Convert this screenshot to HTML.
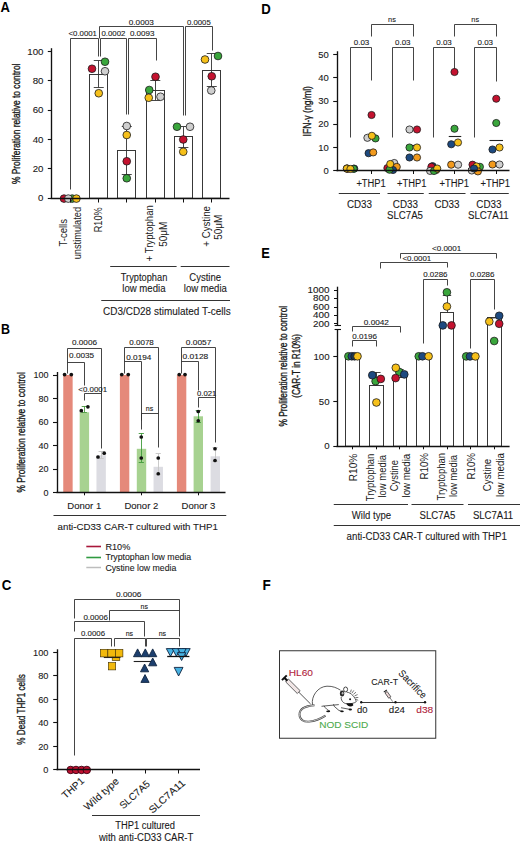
<!DOCTYPE html>
<html><head><meta charset="utf-8"><title>Figure</title>
<style>
html,body{margin:0;padding:0;background:#fff;}
body{width:520px;height:844px;overflow:hidden;}
svg{display:block;font-family:"Liberation Sans", sans-serif;}
text{stroke-width:0.1px;}
.lab{stroke-width:0;}
</style></head>
<body>
<svg width="520" height="844" viewBox="0 0 520 844">
<rect width="520" height="844" fill="#fff"/>
<text x="0.4" y="11.7" font-size="14.3" font-weight="bold" fill="#000" textLength="9.4" lengthAdjust="spacingAndGlyphs">A</text>
<polyline points="70.5,189.5 70.5,38.5 98.5,38.5 98.5,56.5" fill="none" stroke="#303030" stroke-width="0.9"/>
<polyline points="100.5,56.5 100.5,38.5 126.5,38.5 126.5,114.5" fill="none" stroke="#303030" stroke-width="0.9"/>
<polyline points="128.5,114.5 128.5,38.5 156.5,38.5 156.5,60.5" fill="none" stroke="#303030" stroke-width="0.9"/>
<polyline points="99.5,38.5 99.5,26.5 183.5,26.5 183.5,115.5" fill="none" stroke="#303030" stroke-width="0.9"/>
<polyline points="185.5,115.5 185.5,26.5 212.5,26.5 212.5,50.5" fill="none" stroke="#303030" stroke-width="0.9"/>
<text x="68.5" y="36.2" font-size="7" fill="#1a1a1a" stroke="#1a1a1a" textLength="28.4" lengthAdjust="spacingAndGlyphs">&lt;0.0001</text>
<text x="101.5" y="36.2" font-size="7" fill="#1a1a1a" stroke="#1a1a1a" textLength="23.9" lengthAdjust="spacingAndGlyphs">0.0002</text>
<text x="129.9" y="36.2" font-size="7" fill="#1a1a1a" stroke="#1a1a1a" textLength="24.6" lengthAdjust="spacingAndGlyphs">0.0093</text>
<text x="128.8" y="24.5" font-size="7" fill="#1a1a1a" stroke="#1a1a1a" textLength="25" lengthAdjust="spacingAndGlyphs">0.0003</text>
<text x="187" y="24.5" font-size="7" fill="#1a1a1a" stroke="#1a1a1a" textLength="23.7" lengthAdjust="spacingAndGlyphs">0.0005</text>
<rect x="89.5" y="74.5" width="18" height="123.75" fill="#fff" stroke="#383838" stroke-width="1.0"/>
<rect x="117.5" y="150.5" width="18" height="47.75" fill="#fff" stroke="#383838" stroke-width="1.0"/>
<rect x="146.5" y="90.5" width="18" height="107.75" fill="#fff" stroke="#383838" stroke-width="1.0"/>
<rect x="174.5" y="136.5" width="18" height="61.75" fill="#fff" stroke="#383838" stroke-width="1.0"/>
<rect x="202.5" y="70.5" width="18" height="127.75" fill="#fff" stroke="#383838" stroke-width="1.0"/>
<line x1="98.5" y1="60.5" x2="98.5" y2="87.5" stroke="#333" stroke-width="0.9"/>
<line x1="93.75" y1="60.5" x2="103.75" y2="60.5" stroke="#333" stroke-width="0.9"/>
<line x1="93.75" y1="87.5" x2="103.75" y2="87.5" stroke="#333" stroke-width="0.9"/>
<line x1="126.5" y1="126" x2="126.5" y2="174.5" stroke="#333" stroke-width="0.9"/>
<line x1="121.75" y1="126.5" x2="131.75" y2="126.5" stroke="#333" stroke-width="0.9"/>
<line x1="121.75" y1="174.5" x2="131.75" y2="174.5" stroke="#333" stroke-width="0.9"/>
<line x1="155.5" y1="80.9" x2="155.5" y2="100.3" stroke="#333" stroke-width="0.9"/>
<line x1="150.3" y1="80.5" x2="160.3" y2="80.5" stroke="#333" stroke-width="0.9"/>
<line x1="150.3" y1="100.5" x2="160.3" y2="100.5" stroke="#333" stroke-width="0.9"/>
<line x1="183.5" y1="126.75" x2="183.5" y2="147.5" stroke="#333" stroke-width="0.9"/>
<line x1="178.4" y1="126.5" x2="188.4" y2="126.5" stroke="#333" stroke-width="0.9"/>
<line x1="178.4" y1="147.5" x2="188.4" y2="147.5" stroke="#333" stroke-width="0.9"/>
<line x1="211.5" y1="53.75" x2="211.5" y2="86.5" stroke="#333" stroke-width="0.9"/>
<line x1="206.75" y1="53.5" x2="216.75" y2="53.5" stroke="#333" stroke-width="0.9"/>
<line x1="206.75" y1="86.5" x2="216.75" y2="86.5" stroke="#333" stroke-width="0.9"/>
<circle cx="64" cy="198.6" r="3.85" fill="#c4122f" stroke="#1a1a1a" stroke-width="0.8"/>
<circle cx="72.2" cy="198.6" r="3.85" fill="#3aa63c" stroke="#1a1a1a" stroke-width="0.8"/>
<circle cx="68.3" cy="198.6" r="3.85" fill="#cfcfcf" stroke="#1a1a1a" stroke-width="0.8"/>
<circle cx="76.4" cy="198.6" r="3.85" fill="#f6c01a" stroke="#1a1a1a" stroke-width="0.8"/>
<circle cx="92" cy="68.75" r="3.85" fill="#c4122f" stroke="#1a1a1a" stroke-width="0.8"/>
<circle cx="105" cy="61.75" r="3.85" fill="#3aa63c" stroke="#1a1a1a" stroke-width="0.8"/>
<circle cx="105" cy="71.25" r="3.85" fill="#cfcfcf" stroke="#1a1a1a" stroke-width="0.8"/>
<circle cx="98.75" cy="93.25" r="3.85" fill="#f6c01a" stroke="#1a1a1a" stroke-width="0.8"/>
<circle cx="126.75" cy="126" r="3.85" fill="#cfcfcf" stroke="#1a1a1a" stroke-width="0.8"/>
<circle cx="126.75" cy="135" r="3.85" fill="#f6c01a" stroke="#1a1a1a" stroke-width="0.8"/>
<circle cx="126.75" cy="161.25" r="3.85" fill="#c4122f" stroke="#1a1a1a" stroke-width="0.8"/>
<circle cx="126.75" cy="178.25" r="3.85" fill="#3aa63c" stroke="#1a1a1a" stroke-width="0.8"/>
<circle cx="155.5" cy="76.75" r="3.85" fill="#c4122f" stroke="#1a1a1a" stroke-width="0.8"/>
<circle cx="160.5" cy="96.75" r="3.85" fill="#cfcfcf" stroke="#1a1a1a" stroke-width="0.8"/>
<circle cx="149.25" cy="90" r="3.85" fill="#3aa63c" stroke="#1a1a1a" stroke-width="0.8"/>
<circle cx="148.75" cy="97.75" r="3.85" fill="#f6c01a" stroke="#1a1a1a" stroke-width="0.8"/>
<circle cx="177" cy="126.75" r="3.85" fill="#3aa63c" stroke="#1a1a1a" stroke-width="0.8"/>
<circle cx="190" cy="126.75" r="3.85" fill="#cfcfcf" stroke="#1a1a1a" stroke-width="0.8"/>
<circle cx="183.25" cy="139.5" r="3.85" fill="#c4122f" stroke="#1a1a1a" stroke-width="0.8"/>
<circle cx="183.25" cy="151.75" r="3.85" fill="#f6c01a" stroke="#1a1a1a" stroke-width="0.8"/>
<circle cx="205" cy="59.5" r="3.85" fill="#f6c01a" stroke="#1a1a1a" stroke-width="0.8"/>
<circle cx="218" cy="56" r="3.85" fill="#3aa63c" stroke="#1a1a1a" stroke-width="0.8"/>
<circle cx="211.75" cy="76.25" r="3.85" fill="#c4122f" stroke="#1a1a1a" stroke-width="0.8"/>
<circle cx="211.25" cy="90.5" r="3.85" fill="#cfcfcf" stroke="#1a1a1a" stroke-width="0.8"/>
<line x1="51.5" y1="48.2" x2="51.5" y2="198.7" stroke="#111111" stroke-width="1.35"/>
<line x1="50.6" y1="198.5" x2="229.5" y2="198.5" stroke="#111111" stroke-width="1.35"/>
<line x1="47.8" y1="198.5" x2="51.2" y2="198.5" stroke="#111111" stroke-width="1.1"/>
<text x="38.1" y="201.4" font-size="8.8" fill="#1a1a1a" stroke="#1a1a1a" textLength="5.4" lengthAdjust="spacingAndGlyphs">0</text>
<line x1="47.8" y1="168.5" x2="51.2" y2="168.5" stroke="#111111" stroke-width="1.1"/>
<text x="32.7" y="172.05" font-size="8.8" fill="#1a1a1a" stroke="#1a1a1a" textLength="10.8" lengthAdjust="spacingAndGlyphs">20</text>
<line x1="47.8" y1="139.5" x2="51.2" y2="139.5" stroke="#111111" stroke-width="1.1"/>
<text x="32.7" y="142.7" font-size="8.8" fill="#1a1a1a" stroke="#1a1a1a" textLength="10.8" lengthAdjust="spacingAndGlyphs">40</text>
<line x1="47.8" y1="110.5" x2="51.2" y2="110.5" stroke="#111111" stroke-width="1.1"/>
<text x="32.7" y="113.35" font-size="8.8" fill="#1a1a1a" stroke="#1a1a1a" textLength="10.8" lengthAdjust="spacingAndGlyphs">60</text>
<line x1="47.8" y1="80.5" x2="51.2" y2="80.5" stroke="#111111" stroke-width="1.1"/>
<text x="32.7" y="84" font-size="8.8" fill="#1a1a1a" stroke="#1a1a1a" textLength="10.8" lengthAdjust="spacingAndGlyphs">80</text>
<line x1="47.8" y1="51.5" x2="51.2" y2="51.5" stroke="#111111" stroke-width="1.1"/>
<text x="27.3" y="54.65" font-size="8.8" fill="#1a1a1a" stroke="#1a1a1a" textLength="16.2" lengthAdjust="spacingAndGlyphs">100</text>
<line x1="70.5" y1="198.25" x2="70.5" y2="202.5" stroke="#111111" stroke-width="1.0"/>
<line x1="98.5" y1="198.25" x2="98.5" y2="202.5" stroke="#111111" stroke-width="1.0"/>
<line x1="126.5" y1="198.25" x2="126.5" y2="202.5" stroke="#111111" stroke-width="1.0"/>
<line x1="155.5" y1="198.25" x2="155.5" y2="202.5" stroke="#111111" stroke-width="1.0"/>
<line x1="183.5" y1="198.25" x2="183.5" y2="202.5" stroke="#111111" stroke-width="1.0"/>
<line x1="211.5" y1="198.25" x2="211.5" y2="202.5" stroke="#111111" stroke-width="1.0"/>
<text transform="translate(19.8,184.1) rotate(-90)" x="0" y="0" font-size="11.8" fill="#1a1a1a" stroke="#1a1a1a" style="stroke-width:0.35px" textLength="120.5" lengthAdjust="spacingAndGlyphs">% Proliferation relative to control</text>
<text transform="translate(67.4,246.6) rotate(-90)" x="0" y="0" font-size="10.4" fill="#1a1a1a" textLength="27.6" lengthAdjust="spacingAndGlyphs">T-cells</text>
<text transform="translate(80.6,259.3) rotate(-90)" x="0" y="0" font-size="10.4" fill="#1a1a1a" textLength="52.4" lengthAdjust="spacingAndGlyphs">unstimulated</text>
<text transform="translate(101.8,232.3) rotate(-90)" x="0" y="0" font-size="10.4" fill="#1a1a1a" textLength="24.9" lengthAdjust="spacingAndGlyphs">R10%</text>
<text transform="translate(152.6,261.4) rotate(-90)" x="0" y="0" font-size="10.4" fill="#1a1a1a" textLength="56.2" lengthAdjust="spacingAndGlyphs">+ Tryptophan</text>
<text transform="translate(166.6,246.7) rotate(-90)" x="0" y="0" font-size="10.4" fill="#1a1a1a" textLength="25.1" lengthAdjust="spacingAndGlyphs">50μM</text>
<text transform="translate(209.8,246.7) rotate(-90)" x="0" y="0" font-size="10.4" fill="#1a1a1a" textLength="40.7" lengthAdjust="spacingAndGlyphs">+ Cystine</text>
<text transform="translate(222,239.8) rotate(-90)" x="0" y="0" font-size="10.4" fill="#1a1a1a" textLength="25.1" lengthAdjust="spacingAndGlyphs">50μM</text>
<line x1="110.2" y1="266.5" x2="176.6" y2="266.5" stroke="#333" stroke-width="1.0"/>
<line x1="180.7" y1="266.5" x2="229.5" y2="266.5" stroke="#333" stroke-width="1.0"/>
<text x="120.8" y="281" font-size="10" fill="#1a1a1a" stroke="#1a1a1a" textLength="46.5" lengthAdjust="spacingAndGlyphs">Tryptophan</text>
<text x="122.3" y="292" font-size="10" fill="#1a1a1a" stroke="#1a1a1a" textLength="43.2" lengthAdjust="spacingAndGlyphs">low media</text>
<text x="189.3" y="281" font-size="10" fill="#1a1a1a" stroke="#1a1a1a" textLength="31.7" lengthAdjust="spacingAndGlyphs">Cystine</text>
<text x="183.8" y="292" font-size="10" fill="#1a1a1a" stroke="#1a1a1a" textLength="43.1" lengthAdjust="spacingAndGlyphs">low media</text>
<line x1="101.25" y1="300.5" x2="230" y2="300.5" stroke="#333" stroke-width="1.0"/>
<text x="103" y="314.8" font-size="10" fill="#1a1a1a" stroke="#1a1a1a" textLength="127.7" lengthAdjust="spacingAndGlyphs">CD3/CD28 stimulated T-cells</text>
<text x="1" y="333.6" font-size="14.3" font-weight="bold" fill="#000" textLength="9" lengthAdjust="spacingAndGlyphs">B</text>
<polyline points="67.5,373.5 67.5,348.5 101.5,348.5 101.5,448.5" fill="none" stroke="#303030" stroke-width="0.9"/>
<polyline points="67.5,362.5 84.5,362.5 84.5,385.5" fill="none" stroke="#303030" stroke-width="0.9"/>
<polyline points="84.5,400.5 84.5,393.5 101.5,393.5" fill="none" stroke="#303030" stroke-width="0.9"/>
<text x="72" y="345.1" font-size="6.8" fill="#1a1a1a" stroke="#1a1a1a" textLength="25" lengthAdjust="spacingAndGlyphs">0.0006</text>
<text x="69.1" y="358.1" font-size="6.8" fill="#1a1a1a" stroke="#1a1a1a" textLength="25" lengthAdjust="spacingAndGlyphs">0.0035</text>
<text x="78.3" y="391.7" font-size="6.8" fill="#1a1a1a" stroke="#1a1a1a" textLength="28.8" lengthAdjust="spacingAndGlyphs">&lt;0.0001</text>
<polyline points="124.5,373.5 124.5,347.5 158.5,347.5 158.5,447.5" fill="none" stroke="#303030" stroke-width="0.9"/>
<polyline points="124.5,361.5 141.5,361.5 141.5,429.5" fill="none" stroke="#303030" stroke-width="0.9"/>
<polyline points="141.5,420.5 141.5,413.5 158.5,413.5" fill="none" stroke="#303030" stroke-width="0.9"/>
<text x="129.3" y="345.1" font-size="6.8" fill="#1a1a1a" stroke="#1a1a1a" textLength="24.5" lengthAdjust="spacingAndGlyphs">0.0078</text>
<text x="126.3" y="359.6" font-size="6.8" fill="#1a1a1a" stroke="#1a1a1a" textLength="25" lengthAdjust="spacingAndGlyphs">0.0194</text>
<text x="145.8" y="411" font-size="6.8" fill="#1a1a1a" stroke="#1a1a1a" textLength="7.5" lengthAdjust="spacingAndGlyphs">ns</text>
<polyline points="181.5,373.5 181.5,347.5 215.5,347.5 215.5,442.5" fill="none" stroke="#303030" stroke-width="0.9"/>
<polyline points="181.5,361.5 198.5,361.5 198.5,390.5" fill="none" stroke="#303030" stroke-width="0.9"/>
<polyline points="198.5,407.5 198.5,397.5 215.5,397.5" fill="none" stroke="#303030" stroke-width="0.9"/>
<text x="185.8" y="345.1" font-size="6.8" fill="#1a1a1a" stroke="#1a1a1a" textLength="25.5" lengthAdjust="spacingAndGlyphs">0.0057</text>
<text x="182.5" y="358.7" font-size="6.8" fill="#1a1a1a" stroke="#1a1a1a" textLength="25.8" lengthAdjust="spacingAndGlyphs">0.0128</text>
<text x="197" y="395.6" font-size="6.8" fill="#1a1a1a" stroke="#1a1a1a" textLength="19.3" lengthAdjust="spacingAndGlyphs">0.021</text>
<rect x="63.25" y="375" width="9.4" height="117.5" fill="#e5897a" />
<rect x="79.7" y="412.3" width="9.4" height="80.2" fill="#a7d290" />
<rect x="96.45" y="455.2" width="9.4" height="37.3" fill="#dcdce2" />
<rect x="119.9" y="375" width="9.4" height="117.5" fill="#e5897a" />
<rect x="136.8" y="448.8" width="9.4" height="43.7" fill="#a7d290" />
<rect x="153.55" y="466.8" width="9.4" height="25.7" fill="#dcdce2" />
<rect x="176.9" y="375" width="9.4" height="117.5" fill="#e5897a" />
<rect x="193.6" y="416.3" width="9.4" height="76.2" fill="#a7d290" />
<rect x="210.6" y="456.3" width="9.4" height="36.2" fill="#dcdce2" />
<line x1="84.5" y1="406" x2="84.5" y2="412.3" stroke="#4a9a40" stroke-width="0.9"/>
<line x1="81.7" y1="406.5" x2="86.9" y2="406.5" stroke="#4a9a40" stroke-width="0.9"/>
<line x1="81.7" y1="412.5" x2="86.9" y2="412.5" stroke="#4a9a40" stroke-width="0.9"/>
<line x1="141.5" y1="433.3" x2="141.5" y2="462" stroke="#3f9a3a" stroke-width="0.9"/>
<line x1="138.7" y1="433.5" x2="143.9" y2="433.5" stroke="#3f9a3a" stroke-width="0.9"/>
<line x1="138.7" y1="462.5" x2="143.9" y2="462.5" stroke="#3f9a3a" stroke-width="0.9"/>
<line x1="158.5" y1="453.8" x2="158.5" y2="474" stroke="#c4c4c4" stroke-width="0.9"/>
<line x1="155.65" y1="453.5" x2="160.85" y2="453.5" stroke="#c4c4c4" stroke-width="0.9"/>
<line x1="155.65" y1="474.5" x2="160.85" y2="474.5" stroke="#c4c4c4" stroke-width="0.9"/>
<line x1="198.5" y1="410" x2="198.5" y2="422" stroke="#3f9a3a" stroke-width="0.9"/>
<line x1="195.7" y1="410.5" x2="200.9" y2="410.5" stroke="#3f9a3a" stroke-width="0.9"/>
<line x1="195.7" y1="422.5" x2="200.9" y2="422.5" stroke="#3f9a3a" stroke-width="0.9"/>
<line x1="101.5" y1="451.5" x2="101.5" y2="458" stroke="#c4c4c4" stroke-width="0.9"/>
<line x1="98.55" y1="451.5" x2="103.75" y2="451.5" stroke="#c4c4c4" stroke-width="0.9"/>
<line x1="98.55" y1="458.5" x2="103.75" y2="458.5" stroke="#c4c4c4" stroke-width="0.9"/>
<line x1="215.5" y1="447.5" x2="215.5" y2="461" stroke="#c4c4c4" stroke-width="0.9"/>
<line x1="212.5" y1="447.5" x2="217.7" y2="447.5" stroke="#c4c4c4" stroke-width="0.9"/>
<line x1="212.5" y1="461.5" x2="217.7" y2="461.5" stroke="#c4c4c4" stroke-width="0.9"/>
<circle cx="64.6" cy="374.6" r="1.85" fill="#111" />
<circle cx="71.3" cy="374.6" r="1.85" fill="#111" />
<circle cx="81.3" cy="410.7" r="1.85" fill="#111" />
<circle cx="87.9" cy="406.8" r="1.85" fill="#111" />
<circle cx="98" cy="457" r="1.85" fill="#111" />
<circle cx="104.2" cy="453.2" r="1.85" fill="#111" />
<circle cx="121.75" cy="374.6" r="1.85" fill="#111" />
<circle cx="128.25" cy="374.6" r="1.85" fill="#111" />
<circle cx="141.25" cy="437" r="1.85" fill="#111" />
<circle cx="141.25" cy="458" r="1.85" fill="#111" />
<circle cx="158.25" cy="458" r="1.85" fill="#111" />
<circle cx="158.25" cy="473.75" r="1.85" fill="#111" />
<circle cx="179.25" cy="374.6" r="1.85" fill="#111" />
<circle cx="185" cy="374.6" r="1.85" fill="#111" />
<circle cx="198.25" cy="411.5" r="1.85" fill="#111" />
<circle cx="198.25" cy="420.75" r="1.85" fill="#111" />
<circle cx="215" cy="448.75" r="1.85" fill="#111" />
<circle cx="215" cy="460.5" r="1.85" fill="#111" />
<line x1="57.5" y1="372" x2="57.5" y2="492.9" stroke="#111111" stroke-width="1.35"/>
<line x1="56.4" y1="492.5" x2="225.5" y2="492.5" stroke="#111111" stroke-width="1.35"/>
<line x1="53" y1="492.5" x2="57" y2="492.5" stroke="#111111" stroke-width="1.1"/>
<text x="43.5" y="495.5" font-size="8.4" fill="#1a1a1a" stroke="#1a1a1a" textLength="5" lengthAdjust="spacingAndGlyphs">0</text>
<line x1="53" y1="469.5" x2="57" y2="469.5" stroke="#111111" stroke-width="1.1"/>
<text x="38.5" y="472" font-size="8.4" fill="#1a1a1a" stroke="#1a1a1a" textLength="10" lengthAdjust="spacingAndGlyphs">20</text>
<line x1="53" y1="445.5" x2="57" y2="445.5" stroke="#111111" stroke-width="1.1"/>
<text x="38.5" y="448.5" font-size="8.4" fill="#1a1a1a" stroke="#1a1a1a" textLength="10" lengthAdjust="spacingAndGlyphs">40</text>
<line x1="53" y1="422.5" x2="57" y2="422.5" stroke="#111111" stroke-width="1.1"/>
<text x="38.5" y="425" font-size="8.4" fill="#1a1a1a" stroke="#1a1a1a" textLength="10" lengthAdjust="spacingAndGlyphs">60</text>
<line x1="53" y1="398.5" x2="57" y2="398.5" stroke="#111111" stroke-width="1.1"/>
<text x="38.5" y="401.5" font-size="8.4" fill="#1a1a1a" stroke="#1a1a1a" textLength="10" lengthAdjust="spacingAndGlyphs">80</text>
<line x1="53" y1="375.5" x2="57" y2="375.5" stroke="#111111" stroke-width="1.1"/>
<text x="33.5" y="378" font-size="8.4" fill="#1a1a1a" stroke="#1a1a1a" textLength="15" lengthAdjust="spacingAndGlyphs">100</text>
<line x1="84.5" y1="492.5" x2="84.5" y2="495.3" stroke="#111111" stroke-width="1.0"/>
<line x1="141.5" y1="492.5" x2="141.5" y2="495.3" stroke="#111111" stroke-width="1.0"/>
<line x1="198.5" y1="492.5" x2="198.5" y2="495.3" stroke="#111111" stroke-width="1.0"/>
<text transform="translate(25.2,492.4) rotate(-90)" x="0" y="0" font-size="11.8" fill="#1a1a1a" stroke="#1a1a1a" style="stroke-width:0.35px" textLength="120.2" lengthAdjust="spacingAndGlyphs">% Proliferation relative to control</text>
<text x="67.3" y="508.8" font-size="9.8" fill="#1a1a1a" stroke="#1a1a1a" textLength="33.9" lengthAdjust="spacingAndGlyphs">Donor 1</text>
<text x="124.4" y="508.8" font-size="9.8" fill="#1a1a1a" stroke="#1a1a1a" textLength="33.9" lengthAdjust="spacingAndGlyphs">Donor 2</text>
<text x="181.5" y="508.8" font-size="9.8" fill="#1a1a1a" stroke="#1a1a1a" textLength="33.9" lengthAdjust="spacingAndGlyphs">Donor 3</text>
<line x1="53.5" y1="515.5" x2="226.25" y2="515.5" stroke="#333" stroke-width="1.0"/>
<text x="57.6" y="529.6" font-size="9.8" fill="#1a1a1a" stroke="#1a1a1a" textLength="160.2" lengthAdjust="spacingAndGlyphs">anti-CD33 CAR-T cultured with THP1</text>
<line x1="86.3" y1="546.5" x2="101" y2="546.5" stroke="#a8173a" stroke-width="1.6"/>
<line x1="86.3" y1="557.5" x2="101" y2="557.5" stroke="#2f9a40" stroke-width="1.6"/>
<line x1="86.3" y1="567.5" x2="101" y2="567.5" stroke="#bdbdbd" stroke-width="1.5"/>
<text x="105.4" y="550.4" font-size="9.8" fill="#1a1a1a" stroke="#1a1a1a" textLength="24.9" lengthAdjust="spacingAndGlyphs">R10%</text>
<text x="105.4" y="560.2" font-size="9.8" fill="#1a1a1a" stroke="#1a1a1a" textLength="85.8" lengthAdjust="spacingAndGlyphs">Tryptophan low media</text>
<text x="105.4" y="570.6" font-size="9.8" fill="#1a1a1a" stroke="#1a1a1a" textLength="70.9" lengthAdjust="spacingAndGlyphs">Cystine low media</text>
<text x="1.7" y="589.6" font-size="14.3" font-weight="bold" fill="#000" textLength="9.6" lengthAdjust="spacingAndGlyphs">C</text>
<polyline points="74.5,618.5 74.5,599.5 179.5,599.5 179.5,636.5" fill="none" stroke="#303030" stroke-width="0.9"/>
<polyline points="109.5,620.5 109.5,610.5 179.5,610.5" fill="none" stroke="#303030" stroke-width="0.9"/>
<polyline points="74.5,631.5 74.5,621.5 144.5,621.5 144.5,636.5" fill="none" stroke="#303030" stroke-width="0.9"/>
<polyline points="74.5,755.5 74.5,638.5 111.5,638.5 111.5,646.5" fill="none" stroke="#303030" stroke-width="0.9"/>
<polyline points="114.5,646.5 114.5,638.5 145.5,638.5 145.5,646.5" fill="none" stroke="#303030" stroke-width="0.9"/>
<polyline points="146.5,646.5 146.5,638.5 179.5,638.5 179.5,646.5" fill="none" stroke="#303030" stroke-width="0.9"/>
<text x="116" y="596.8" font-size="7" fill="#1a1a1a" stroke="#1a1a1a" textLength="25.4" lengthAdjust="spacingAndGlyphs">0.0006</text>
<text x="140.6" y="608.7" font-size="7" fill="#1a1a1a" stroke="#1a1a1a" textLength="7.4" lengthAdjust="spacingAndGlyphs">ns</text>
<text x="83.4" y="620.3" font-size="7" fill="#1a1a1a" stroke="#1a1a1a" textLength="24.5" lengthAdjust="spacingAndGlyphs">0.0006</text>
<text x="81" y="635.8" font-size="7" fill="#1a1a1a" stroke="#1a1a1a" textLength="24" lengthAdjust="spacingAndGlyphs">0.0006</text>
<text x="125.7" y="635.5" font-size="7" fill="#1a1a1a" stroke="#1a1a1a" textLength="7.4" lengthAdjust="spacingAndGlyphs">ns</text>
<text x="158.7" y="635.5" font-size="7" fill="#1a1a1a" stroke="#1a1a1a" textLength="7.4" lengthAdjust="spacingAndGlyphs">ns</text>
<rect x="112.2" y="653" width="7.6" height="7.6" fill="#f2b90c" stroke="#3a2a00" stroke-width="0.6"/>
<line x1="103.8" y1="657.5" x2="120.5" y2="657.5" stroke="#222" stroke-width="1.1"/>
<rect x="100.3" y="649.3" width="7.6" height="7.6" fill="#f2b90c" stroke="#3a2a00" stroke-width="0.6"/>
<rect x="107.85" y="649.3" width="7.6" height="7.6" fill="#f2b90c" stroke="#3a2a00" stroke-width="0.6"/>
<rect x="115.3" y="649.3" width="7.6" height="7.6" fill="#f2b90c" stroke="#3a2a00" stroke-width="0.6"/>
<rect x="108.3" y="662.5" width="7.4" height="7.4" fill="#f2b90c" stroke="#3a2a00" stroke-width="0.6"/>
<line x1="133.7" y1="661.5" x2="154" y2="661.5" stroke="#222" stroke-width="1.1"/>
<polygon points="137.6,648.9 141.7,656.7 133.5,656.7" fill="#1c3f6e" stroke="#0f2440" stroke-width="0.9" stroke-linejoin="round"/>
<polygon points="145.3,648.9 149.4,656.7 141.2,656.7" fill="#1c3f6e" stroke="#0f2440" stroke-width="0.9" stroke-linejoin="round"/>
<polygon points="152.7,648.9 156.8,656.7 148.6,656.7" fill="#1c3f6e" stroke="#0f2440" stroke-width="0.9" stroke-linejoin="round"/>
<polygon points="152.7,658 156.8,665.8 148.6,665.8" fill="#1c3f6e" stroke="#0f2440" stroke-width="0.9" stroke-linejoin="round"/>
<polygon points="144.6,664 148.7,671.8 140.5,671.8" fill="#1c3f6e" stroke="#0f2440" stroke-width="0.9" stroke-linejoin="round"/>
<polygon points="145,674.6 149.1,682.4 140.9,682.4" fill="#1c3f6e" stroke="#0f2440" stroke-width="0.9" stroke-linejoin="round"/>
<polygon points="166.3,648.6 174.7,648.6 170.5,656.4" fill="#47b2e2" stroke="#0e2240" stroke-width="0.9" stroke-linejoin="round"/>
<polygon points="172.2,648.6 180.6,648.6 176.4,656.4" fill="#47b2e2" stroke="#0e2240" stroke-width="0.9" stroke-linejoin="round"/>
<polygon points="181.8,648.6 190.2,648.6 186,656.4" fill="#47b2e2" stroke="#0e2240" stroke-width="0.9" stroke-linejoin="round"/>
<polygon points="177.8,648.6 186.2,648.6 182,656.4" fill="#47b2e2" stroke="#0e2240" stroke-width="0.9" stroke-linejoin="round"/>
<polygon points="177.4,652.7 185.8,652.7 181.6,660.5" fill="#47b2e2" stroke="#0e2240" stroke-width="0.9" stroke-linejoin="round"/>
<line x1="167.2" y1="656.5" x2="189.4" y2="656.5" stroke="#111" stroke-width="1.3"/>
<polygon points="174.2,667.4 183,667.4 178.6,676" fill="#47b2e2" stroke="#0e2240" stroke-width="0.9" stroke-linejoin="round"/>
<circle cx="70.7" cy="769.95" r="3.75" fill="#c01030" stroke="#3a0010" stroke-width="0.9"/>
<circle cx="76" cy="769.95" r="3.75" fill="#c01030" stroke="#3a0010" stroke-width="0.9"/>
<circle cx="81.5" cy="769.95" r="3.75" fill="#c01030" stroke="#3a0010" stroke-width="0.9"/>
<circle cx="86.8" cy="769.95" r="3.75" fill="#c01030" stroke="#3a0010" stroke-width="0.9"/>
<line x1="57.5" y1="649.3" x2="57.5" y2="770.2" stroke="#111111" stroke-width="1.35"/>
<line x1="56.4" y1="769.5" x2="200" y2="769.5" stroke="#111111" stroke-width="1.35"/>
<line x1="53.2" y1="769.5" x2="57" y2="769.5" stroke="#111111" stroke-width="1.1"/>
<text x="43.35" y="773" font-size="9.2" fill="#1a1a1a" stroke="#1a1a1a" textLength="5.15" lengthAdjust="spacingAndGlyphs">0</text>
<line x1="53.2" y1="746.5" x2="57" y2="746.5" stroke="#111111" stroke-width="1.1"/>
<text x="38.2" y="749.56" font-size="9.2" fill="#1a1a1a" stroke="#1a1a1a" textLength="10.3" lengthAdjust="spacingAndGlyphs">20</text>
<line x1="53.2" y1="722.5" x2="57" y2="722.5" stroke="#111111" stroke-width="1.1"/>
<text x="38.2" y="726.12" font-size="9.2" fill="#1a1a1a" stroke="#1a1a1a" textLength="10.3" lengthAdjust="spacingAndGlyphs">40</text>
<line x1="53.2" y1="699.5" x2="57" y2="699.5" stroke="#111111" stroke-width="1.1"/>
<text x="38.2" y="702.68" font-size="9.2" fill="#1a1a1a" stroke="#1a1a1a" textLength="10.3" lengthAdjust="spacingAndGlyphs">60</text>
<line x1="53.2" y1="675.5" x2="57" y2="675.5" stroke="#111111" stroke-width="1.1"/>
<text x="38.2" y="679.24" font-size="9.2" fill="#1a1a1a" stroke="#1a1a1a" textLength="10.3" lengthAdjust="spacingAndGlyphs">80</text>
<line x1="53.2" y1="652.5" x2="57" y2="652.5" stroke="#111111" stroke-width="1.1"/>
<text x="33.05" y="655.8" font-size="9.2" fill="#1a1a1a" stroke="#1a1a1a" textLength="15.45" lengthAdjust="spacingAndGlyphs">100</text>
<line x1="112.5" y1="769.75" x2="112.5" y2="773.5" stroke="#111111" stroke-width="1.0"/>
<line x1="145.5" y1="769.75" x2="145.5" y2="773.5" stroke="#111111" stroke-width="1.0"/>
<line x1="178.5" y1="769.75" x2="178.5" y2="773.5" stroke="#111111" stroke-width="1.0"/>
<text transform="translate(25.4,744.7) rotate(-90)" x="0" y="0" font-size="11.8" fill="#1a1a1a" stroke="#1a1a1a" style="stroke-width:0.35px" textLength="70.5" lengthAdjust="spacingAndGlyphs">% Dead THP1 cells</text>
<text transform="translate(65.6,799.2) rotate(-42)" x="0" y="0" font-size="10" fill="#1a1a1a" stroke="#1a1a1a" text-anchor="start" textLength="26" lengthAdjust="spacingAndGlyphs">THP1</text>
<text transform="translate(87.6,811) rotate(-42)" x="0" y="0" font-size="10" fill="#1a1a1a" stroke="#1a1a1a" text-anchor="start" textLength="43" lengthAdjust="spacingAndGlyphs">Wild type</text>
<text transform="translate(123.2,809.6) rotate(-42)" x="0" y="0" font-size="10" fill="#1a1a1a" stroke="#1a1a1a" text-anchor="start" textLength="37" lengthAdjust="spacingAndGlyphs">SLC7A5</text>
<text transform="translate(152.4,814) rotate(-42)" x="0" y="0" font-size="10" fill="#1a1a1a" stroke="#1a1a1a" text-anchor="start" textLength="45" lengthAdjust="spacingAndGlyphs">SLC7A11</text>
<line x1="92" y1="815.5" x2="200" y2="815.5" stroke="#333" stroke-width="1.0"/>
<text x="115.3" y="829.3" font-size="10" fill="#1a1a1a" stroke="#1a1a1a" textLength="59.7" lengthAdjust="spacingAndGlyphs">THP1 cultured</text>
<text x="98.9" y="840.5" font-size="10" fill="#1a1a1a" stroke="#1a1a1a" textLength="94.4" lengthAdjust="spacingAndGlyphs">with anti-CD33 CAR-T</text>
<text x="261.3" y="13.7" font-size="14.3" font-weight="bold" fill="#000" textLength="9.5" lengthAdjust="spacingAndGlyphs">D</text>
<polyline points="371.5,36.5 371.5,24.5 413.5,24.5 413.5,36.5" fill="none" stroke="#303030" stroke-width="0.9"/>
<polyline points="454.5,36.5 454.5,24.5 496.5,24.5 496.5,36.5" fill="none" stroke="#303030" stroke-width="0.9"/>
<text x="392" y="21.6" font-size="7.4" fill="#1a1a1a" stroke="#1a1a1a" text-anchor="middle">ns</text>
<text x="475.2" y="21.6" font-size="7.4" fill="#1a1a1a" stroke="#1a1a1a" text-anchor="middle">ns</text>
<polyline points="350.5,137.5 350.5,47.5 371.5,47.5 371.5,80.5" fill="none" stroke="#303030" stroke-width="0.9"/>
<polyline points="392.5,137.5 392.5,47.5 413.5,47.5 413.5,80.5" fill="none" stroke="#303030" stroke-width="0.9"/>
<polyline points="433.5,137.5 433.5,47.5 454.5,47.5 454.5,70.5" fill="none" stroke="#303030" stroke-width="0.9"/>
<polyline points="474.5,137.5 474.5,47.5 496.5,47.5 496.5,81.5" fill="none" stroke="#303030" stroke-width="0.9"/>
<text x="353.75" y="45.1" font-size="7.5" fill="#1a1a1a" stroke="#1a1a1a" textLength="15.5" lengthAdjust="spacingAndGlyphs">0.03</text>
<text x="395" y="45.1" font-size="7.5" fill="#1a1a1a" stroke="#1a1a1a" textLength="15.5" lengthAdjust="spacingAndGlyphs">0.03</text>
<text x="436.25" y="45.1" font-size="7.5" fill="#1a1a1a" stroke="#1a1a1a" textLength="15.5" lengthAdjust="spacingAndGlyphs">0.03</text>
<text x="477.5" y="45.1" font-size="7.5" fill="#1a1a1a" stroke="#1a1a1a" textLength="15.5" lengthAdjust="spacingAndGlyphs">0.03</text>
<line x1="344" y1="169.5" x2="357.5" y2="169.5" stroke="#222" stroke-width="1.1"/>
<line x1="366" y1="138.5" x2="377" y2="138.5" stroke="#222" stroke-width="1.1"/>
<line x1="386" y1="167.5" x2="399" y2="167.5" stroke="#222" stroke-width="1.1"/>
<line x1="406.25" y1="145.5" x2="420" y2="145.5" stroke="#222" stroke-width="1.1"/>
<line x1="427" y1="168.5" x2="440.5" y2="168.5" stroke="#222" stroke-width="1.1"/>
<line x1="448.75" y1="136.5" x2="461.25" y2="136.5" stroke="#222" stroke-width="1.1"/>
<line x1="468" y1="168.5" x2="483" y2="168.5" stroke="#222" stroke-width="1.1"/>
<line x1="489.5" y1="140.5" x2="503" y2="140.5" stroke="#222" stroke-width="1.1"/>
<circle cx="354.2" cy="168.6" r="3.6" fill="#1d4a80" stroke="#1a1a1a" stroke-width="0.8"/>
<circle cx="353.6" cy="168.8" r="3.6" fill="#3aa63c" stroke="#1a1a1a" stroke-width="0.8"/>
<circle cx="347.4" cy="168.8" r="3.6" fill="#c4122f" stroke="#1a1a1a" stroke-width="0.8"/>
<circle cx="347" cy="168.4" r="3.6" fill="#f29a1d" stroke="#1a1a1a" stroke-width="0.8"/>
<circle cx="346.8" cy="168.6" r="3.6" fill="#f6c01a" stroke="#1a1a1a" stroke-width="0.8"/>
<circle cx="350.4" cy="169" r="3.6" fill="#f6c01a" stroke="#1a1a1a" stroke-width="0.8"/>
<circle cx="371.55" cy="115" r="3.6" fill="#c4122f" stroke="#1a1a1a" stroke-width="0.8"/>
<circle cx="367.4" cy="137.8" r="3.6" fill="#cfcfcf" stroke="#1a1a1a" stroke-width="0.8"/>
<circle cx="375.5" cy="138.4" r="3.6" fill="#3aa63c" stroke="#1a1a1a" stroke-width="0.8"/>
<circle cx="371.85" cy="135.8" r="3.6" fill="#f6c01a" stroke="#1a1a1a" stroke-width="0.8"/>
<circle cx="368.6" cy="153.2" r="3.6" fill="#1d4a80" stroke="#1a1a1a" stroke-width="0.8"/>
<circle cx="373.2" cy="152.4" r="3.6" fill="#f29a1d" stroke="#1a1a1a" stroke-width="0.8"/>
<circle cx="394.25" cy="163" r="3.6" fill="#cfcfcf" stroke="#1a1a1a" stroke-width="0.8"/>
<circle cx="396.75" cy="166.9" r="3.6" fill="#f29a1d" stroke="#1a1a1a" stroke-width="0.8"/>
<circle cx="393" cy="170" r="3.6" fill="#1d4a80" stroke="#1a1a1a" stroke-width="0.8"/>
<circle cx="387.4" cy="168.1" r="3.6" fill="#c4122f" stroke="#1a1a1a" stroke-width="0.8"/>
<circle cx="389.5" cy="169.75" r="3.6" fill="#3aa63c" stroke="#1a1a1a" stroke-width="0.8"/>
<circle cx="390.25" cy="164" r="3.6" fill="#f6c01a" stroke="#1a1a1a" stroke-width="0.8"/>
<circle cx="409.5" cy="129.5" r="3.6" fill="#cfcfcf" stroke="#1a1a1a" stroke-width="0.8"/>
<circle cx="417" cy="129.5" r="3.6" fill="#c4122f" stroke="#1a1a1a" stroke-width="0.8"/>
<circle cx="409.5" cy="147.5" r="3.6" fill="#3aa63c" stroke="#1a1a1a" stroke-width="0.8"/>
<circle cx="417" cy="147.5" r="3.6" fill="#f6c01a" stroke="#1a1a1a" stroke-width="0.8"/>
<circle cx="409.5" cy="157.5" r="3.6" fill="#1d4a80" stroke="#1a1a1a" stroke-width="0.8"/>
<circle cx="417" cy="157.5" r="3.6" fill="#f29a1d" stroke="#1a1a1a" stroke-width="0.8"/>
<circle cx="432.6" cy="166.2" r="3.6" fill="#1d4a80" stroke="#1a1a1a" stroke-width="0.8"/>
<circle cx="431.4" cy="166.8" r="3.6" fill="#c4122f" stroke="#1a1a1a" stroke-width="0.8"/>
<circle cx="436.2" cy="170" r="3.6" fill="#f29a1d" stroke="#1a1a1a" stroke-width="0.8"/>
<circle cx="430.1" cy="170.9" r="3.6" fill="#cfcfcf" stroke="#1a1a1a" stroke-width="0.8"/>
<circle cx="434" cy="171" r="3.6" fill="#3aa63c" stroke="#1a1a1a" stroke-width="0.8"/>
<circle cx="437.2" cy="168.5" r="3.6" fill="#f6c01a" stroke="#1a1a1a" stroke-width="0.8"/>
<circle cx="454.5" cy="72" r="3.6" fill="#c4122f" stroke="#1a1a1a" stroke-width="0.8"/>
<circle cx="454.5" cy="128.75" r="3.6" fill="#3aa63c" stroke="#1a1a1a" stroke-width="0.8"/>
<circle cx="451.25" cy="144.25" r="3.6" fill="#1d4a80" stroke="#1a1a1a" stroke-width="0.8"/>
<circle cx="458" cy="142.5" r="3.6" fill="#f6c01a" stroke="#1a1a1a" stroke-width="0.8"/>
<circle cx="451.2" cy="164.7" r="3.6" fill="#f29a1d" stroke="#1a1a1a" stroke-width="0.8"/>
<circle cx="458.1" cy="164.7" r="3.6" fill="#cfcfcf" stroke="#1a1a1a" stroke-width="0.8"/>
<circle cx="472.5" cy="164.7" r="3.6" fill="#c4122f" stroke="#1a1a1a" stroke-width="0.8"/>
<circle cx="479.9" cy="166.8" r="3.6" fill="#3aa63c" stroke="#1a1a1a" stroke-width="0.8"/>
<circle cx="476.5" cy="166.4" r="3.6" fill="#f6c01a" stroke="#1a1a1a" stroke-width="0.8"/>
<circle cx="471.8" cy="170.5" r="3.6" fill="#cfcfcf" stroke="#1a1a1a" stroke-width="0.8"/>
<circle cx="477.9" cy="171.4" r="3.6" fill="#f29a1d" stroke="#1a1a1a" stroke-width="0.8"/>
<circle cx="474" cy="168.5" r="3.6" fill="#1d4a80" stroke="#1a1a1a" stroke-width="0.8"/>
<circle cx="496.25" cy="98.75" r="3.6" fill="#c4122f" stroke="#1a1a1a" stroke-width="0.8"/>
<circle cx="496.25" cy="123" r="3.6" fill="#3aa63c" stroke="#1a1a1a" stroke-width="0.8"/>
<circle cx="492.5" cy="149.5" r="3.6" fill="#1d4a80" stroke="#1a1a1a" stroke-width="0.8"/>
<circle cx="499.5" cy="147.5" r="3.6" fill="#f6c01a" stroke="#1a1a1a" stroke-width="0.8"/>
<circle cx="492.5" cy="164.5" r="3.6" fill="#f29a1d" stroke="#1a1a1a" stroke-width="0.8"/>
<circle cx="499.5" cy="164.5" r="3.6" fill="#cfcfcf" stroke="#1a1a1a" stroke-width="0.8"/>
<line x1="337.5" y1="51.25" x2="337.5" y2="171.2" stroke="#111111" stroke-width="1.35"/>
<line x1="336.4" y1="170.5" x2="509.5" y2="170.5" stroke="#111111" stroke-width="1.35"/>
<line x1="333.2" y1="170.5" x2="337" y2="170.5" stroke="#111111" stroke-width="1.1"/>
<text x="323.55" y="173.75" font-size="8.3" fill="#1a1a1a" stroke="#1a1a1a" textLength="5.25" lengthAdjust="spacingAndGlyphs">0</text>
<line x1="333.2" y1="147.5" x2="337" y2="147.5" stroke="#111111" stroke-width="1.1"/>
<text x="318.3" y="150.5" font-size="8.3" fill="#1a1a1a" stroke="#1a1a1a" textLength="10.5" lengthAdjust="spacingAndGlyphs">10</text>
<line x1="333.2" y1="124.5" x2="337" y2="124.5" stroke="#111111" stroke-width="1.1"/>
<text x="318.3" y="127.25" font-size="8.3" fill="#1a1a1a" stroke="#1a1a1a" textLength="10.5" lengthAdjust="spacingAndGlyphs">20</text>
<line x1="333.2" y1="101.5" x2="337" y2="101.5" stroke="#111111" stroke-width="1.1"/>
<text x="318.3" y="104" font-size="8.3" fill="#1a1a1a" stroke="#1a1a1a" textLength="10.5" lengthAdjust="spacingAndGlyphs">30</text>
<line x1="333.2" y1="77.5" x2="337" y2="77.5" stroke="#111111" stroke-width="1.1"/>
<text x="318.3" y="80.75" font-size="8.3" fill="#1a1a1a" stroke="#1a1a1a" textLength="10.5" lengthAdjust="spacingAndGlyphs">40</text>
<line x1="333.2" y1="54.5" x2="337" y2="54.5" stroke="#111111" stroke-width="1.1"/>
<text x="318.3" y="57.5" font-size="8.3" fill="#1a1a1a" stroke="#1a1a1a" textLength="10.5" lengthAdjust="spacingAndGlyphs">50</text>
<line x1="371.5" y1="170.75" x2="371.5" y2="174" stroke="#111111" stroke-width="1.0"/>
<line x1="413.5" y1="170.75" x2="413.5" y2="174" stroke="#111111" stroke-width="1.0"/>
<line x1="454.5" y1="170.75" x2="454.5" y2="174" stroke="#111111" stroke-width="1.0"/>
<line x1="496.5" y1="170.75" x2="496.5" y2="174" stroke="#111111" stroke-width="1.0"/>
<text transform="translate(310.6,136.5) rotate(-90)" x="0" y="0" font-size="10.4" fill="#1a1a1a" stroke="#1a1a1a" style="stroke-width:0.3px" textLength="50.5" lengthAdjust="spacingAndGlyphs">IFN-γ (ng/ml)</text>
<text x="356.4" y="186.7" font-size="10" fill="#1a1a1a" stroke="#1a1a1a" textLength="29.4" lengthAdjust="spacingAndGlyphs">+THP1</text>
<text x="397.1" y="186.7" font-size="10" fill="#1a1a1a" stroke="#1a1a1a" textLength="29.4" lengthAdjust="spacingAndGlyphs">+THP1</text>
<text x="439.5" y="186.7" font-size="10" fill="#1a1a1a" stroke="#1a1a1a" textLength="29.5" lengthAdjust="spacingAndGlyphs">+THP1</text>
<text x="480.5" y="186.7" font-size="10" fill="#1a1a1a" stroke="#1a1a1a" textLength="29.5" lengthAdjust="spacingAndGlyphs">+THP1</text>
<line x1="338.75" y1="193.5" x2="380" y2="193.5" stroke="#333" stroke-width="1.0"/>
<line x1="387.5" y1="193.5" x2="423.75" y2="193.5" stroke="#333" stroke-width="1.0"/>
<line x1="428.75" y1="193.5" x2="465.5" y2="193.5" stroke="#333" stroke-width="1.0"/>
<line x1="470.5" y1="193.5" x2="508.75" y2="193.5" stroke="#333" stroke-width="1.0"/>
<text x="346.9" y="207.5" font-size="10" fill="#1a1a1a" stroke="#1a1a1a" textLength="25.1" lengthAdjust="spacingAndGlyphs">CD33</text>
<text x="392.8" y="207.5" font-size="10" fill="#1a1a1a" stroke="#1a1a1a" textLength="25.1" lengthAdjust="spacingAndGlyphs">CD33</text>
<text x="434.4" y="207.5" font-size="10" fill="#1a1a1a" stroke="#1a1a1a" textLength="25.2" lengthAdjust="spacingAndGlyphs">CD33</text>
<text x="476.3" y="207.5" font-size="10" fill="#1a1a1a" stroke="#1a1a1a" textLength="25.2" lengthAdjust="spacingAndGlyphs">CD33</text>
<text x="387" y="218.9" font-size="10" fill="#1a1a1a" stroke="#1a1a1a" textLength="36" lengthAdjust="spacingAndGlyphs">SLC7A5</text>
<text x="468" y="218.9" font-size="10" fill="#1a1a1a" stroke="#1a1a1a" textLength="40.75" lengthAdjust="spacingAndGlyphs">SLC7A11</text>
<text x="261.3" y="257.7" font-size="14.3" font-weight="bold" fill="#000" textLength="8.6" lengthAdjust="spacingAndGlyphs">E</text>
<polyline points="352.5,346.5 352.5,340.5 376.5,340.5 376.5,346.5" fill="none" stroke="#303030" stroke-width="0.9"/>
<polyline points="352.5,331.5 352.5,326.5 400.5,326.5 400.5,332.5" fill="none" stroke="#303030" stroke-width="0.9"/>
<polyline points="423.5,343.5 423.5,279.5 447.5,279.5 447.5,285.5" fill="none" stroke="#303030" stroke-width="0.9"/>
<polyline points="470.5,348.5 470.5,279.5 494.5,279.5 494.5,309.5" fill="none" stroke="#303030" stroke-width="0.9"/>
<polyline points="380.5,268.5 380.5,262.5 447.5,262.5 447.5,267.5" fill="none" stroke="#303030" stroke-width="0.9"/>
<polyline points="400.5,258.5 400.5,253.5 496.5,253.5 496.5,258.5" fill="none" stroke="#303030" stroke-width="0.9"/>
<text x="352.3" y="338.6" font-size="7" fill="#1a1a1a" stroke="#1a1a1a" textLength="24.6" lengthAdjust="spacingAndGlyphs">0.0196</text>
<text x="363.8" y="324.5" font-size="7" fill="#1a1a1a" stroke="#1a1a1a" textLength="25.1" lengthAdjust="spacingAndGlyphs">0.0042</text>
<text x="423.25" y="276.9" font-size="7" fill="#1a1a1a" stroke="#1a1a1a" textLength="24.25" lengthAdjust="spacingAndGlyphs">0.0286</text>
<text x="470" y="276.9" font-size="7" fill="#1a1a1a" stroke="#1a1a1a" textLength="24.5" lengthAdjust="spacingAndGlyphs">0.0286</text>
<text x="402.5" y="260.6" font-size="7" fill="#1a1a1a" stroke="#1a1a1a" textLength="28.75" lengthAdjust="spacingAndGlyphs">&lt;0.0001</text>
<text x="432" y="251.2" font-size="7" fill="#1a1a1a" stroke="#1a1a1a" textLength="29.25" lengthAdjust="spacingAndGlyphs">&lt;0.0001</text>
<rect x="345.5" y="356.5" width="14" height="89.75" fill="#fff" stroke="#383838" stroke-width="1.0"/>
<rect x="369.5" y="385.5" width="14" height="60.75" fill="#fff" stroke="#383838" stroke-width="1.0"/>
<rect x="393.5" y="377.5" width="13" height="68.75" fill="#fff" stroke="#383838" stroke-width="1.0"/>
<rect x="416.5" y="356.5" width="13" height="89.75" fill="#fff" stroke="#383838" stroke-width="1.0"/>
<rect x="440.5" y="312.5" width="13" height="133.75" fill="#fff" stroke="#383838" stroke-width="1.0"/>
<rect x="463.5" y="356.5" width="14" height="89.75" fill="#fff" stroke="#383838" stroke-width="1.0"/>
<rect x="487.5" y="317.5" width="14" height="128.75" fill="#fff" stroke="#383838" stroke-width="1.0"/>
<line x1="447.5" y1="295.8" x2="447.5" y2="312.8" stroke="#333" stroke-width="0.9"/>
<line x1="442.8" y1="295.5" x2="451.2" y2="295.5" stroke="#333" stroke-width="0.9"/>
<line x1="376.5" y1="372" x2="376.5" y2="385.4" stroke="#333" stroke-width="0.9"/>
<line x1="373.2" y1="372.5" x2="380.6" y2="372.5" stroke="#333" stroke-width="0.9"/>
<line x1="400.5" y1="369" x2="400.5" y2="377.5" stroke="#333" stroke-width="0.9"/>
<line x1="396.3" y1="369.5" x2="403.7" y2="369.5" stroke="#333" stroke-width="0.9"/>
<line x1="490.5" y1="318.2" x2="498.5" y2="317.6" stroke="#333" stroke-width="0.9"/>
<circle cx="348.4" cy="356.3" r="3.85" fill="#3aa63c" stroke="#1a1a1a" stroke-width="0.8"/>
<circle cx="351.8" cy="356.3" r="3.85" fill="#1d4a80" stroke="#1a1a1a" stroke-width="0.8"/>
<circle cx="354.6" cy="356.3" r="3.85" fill="#1b3552" stroke="#1a1a1a" stroke-width="0.8"/>
<circle cx="357.5" cy="356.3" r="3.85" fill="#f6c01a" stroke="#1a1a1a" stroke-width="0.8"/>
<circle cx="375.6" cy="381.2" r="3.85" fill="#3aa63c" stroke="#1a1a1a" stroke-width="0.8"/>
<circle cx="372.3" cy="375.2" r="3.85" fill="#1d4a80" stroke="#1a1a1a" stroke-width="0.8"/>
<circle cx="380.8" cy="378.9" r="3.85" fill="#c4122f" stroke="#1a1a1a" stroke-width="0.8"/>
<circle cx="376.4" cy="402.5" r="3.85" fill="#f6c01a" stroke="#1a1a1a" stroke-width="0.8"/>
<circle cx="399.3" cy="372" r="3.85" fill="#3aa63c" stroke="#1a1a1a" stroke-width="0.8"/>
<circle cx="395.8" cy="367.8" r="3.85" fill="#f6c01a" stroke="#1a1a1a" stroke-width="0.8"/>
<circle cx="404.3" cy="374.4" r="3.85" fill="#1d4a80" stroke="#1a1a1a" stroke-width="0.8"/>
<circle cx="395.6" cy="378.1" r="3.85" fill="#c4122f" stroke="#1a1a1a" stroke-width="0.8"/>
<circle cx="418.75" cy="356.3" r="3.85" fill="#3aa63c" stroke="#1a1a1a" stroke-width="0.8"/>
<circle cx="422.5" cy="356.3" r="3.85" fill="#1d4a80" stroke="#1a1a1a" stroke-width="0.8"/>
<circle cx="428.6" cy="356.3" r="3.85" fill="#f6c01a" stroke="#1a1a1a" stroke-width="0.8"/>
<circle cx="446.9" cy="292.3" r="3.85" fill="#3aa63c" stroke="#1a1a1a" stroke-width="0.8"/>
<circle cx="446.9" cy="306.5" r="3.85" fill="#f6c01a" stroke="#1a1a1a" stroke-width="0.8"/>
<circle cx="442.8" cy="325.4" r="3.85" fill="#1d4a80" stroke="#1a1a1a" stroke-width="0.8"/>
<circle cx="451.5" cy="325.4" r="3.85" fill="#c4122f" stroke="#1a1a1a" stroke-width="0.8"/>
<circle cx="466.2" cy="356.4" r="3.85" fill="#3aa63c" stroke="#1a1a1a" stroke-width="0.8"/>
<circle cx="470" cy="356.4" r="3.85" fill="#1d4a80" stroke="#1a1a1a" stroke-width="0.8"/>
<circle cx="475.4" cy="356.4" r="3.85" fill="#f6c01a" stroke="#1a1a1a" stroke-width="0.8"/>
<circle cx="499.2" cy="315.8" r="3.85" fill="#1d4a80" stroke="#1a1a1a" stroke-width="0.8"/>
<circle cx="489.3" cy="321.5" r="3.85" fill="#f6c01a" stroke="#1a1a1a" stroke-width="0.8"/>
<circle cx="499.2" cy="323.8" r="3.85" fill="#c4122f" stroke="#1a1a1a" stroke-width="0.8"/>
<circle cx="494.2" cy="341" r="3.85" fill="#3aa63c" stroke="#1a1a1a" stroke-width="0.8"/>
<line x1="337.5" y1="286.7" x2="337.5" y2="325.6" stroke="#111111" stroke-width="1.35"/>
<line x1="337.5" y1="329.4" x2="337.5" y2="446.7" stroke="#111111" stroke-width="1.35"/>
<line x1="334.6" y1="325.5" x2="341" y2="325.5" stroke="#111111" stroke-width="1.1"/>
<line x1="334.6" y1="329.5" x2="341" y2="329.5" stroke="#111111" stroke-width="1.1"/>
<line x1="336.4" y1="446.5" x2="509.6" y2="446.5" stroke="#111111" stroke-width="1.35"/>
<line x1="333.3" y1="446.5" x2="337" y2="446.5" stroke="#111111" stroke-width="1.1"/>
<text x="324.23" y="449.45" font-size="9" fill="#1a1a1a" stroke="#1a1a1a" textLength="5.37" lengthAdjust="spacingAndGlyphs">0</text>
<line x1="333.3" y1="401.5" x2="337" y2="401.5" stroke="#111111" stroke-width="1.1"/>
<text x="318.86" y="404.57" font-size="9" fill="#1a1a1a" stroke="#1a1a1a" textLength="10.74" lengthAdjust="spacingAndGlyphs">50</text>
<line x1="333.3" y1="356.5" x2="337" y2="356.5" stroke="#111111" stroke-width="1.1"/>
<text x="313.49" y="359.7" font-size="9" fill="#1a1a1a" stroke="#1a1a1a" textLength="16.11" lengthAdjust="spacingAndGlyphs">100</text>
<line x1="334" y1="323.5" x2="337" y2="323.5" stroke="#111111" stroke-width="1.0"/>
<text x="312.96" y="326.6" font-size="8.2" fill="#1a1a1a" stroke="#1a1a1a" textLength="16.44" lengthAdjust="spacingAndGlyphs">200</text>
<line x1="334" y1="315.5" x2="337" y2="315.5" stroke="#111111" stroke-width="1.0"/>
<text x="312.96" y="318.2" font-size="8.2" fill="#1a1a1a" stroke="#1a1a1a" textLength="16.44" lengthAdjust="spacingAndGlyphs">400</text>
<line x1="334" y1="307.5" x2="337" y2="307.5" stroke="#111111" stroke-width="1.0"/>
<text x="312.96" y="310.1" font-size="8.2" fill="#1a1a1a" stroke="#1a1a1a" textLength="16.44" lengthAdjust="spacingAndGlyphs">600</text>
<line x1="334" y1="298.5" x2="337" y2="298.5" stroke="#111111" stroke-width="1.0"/>
<text x="312.96" y="301.2" font-size="8.2" fill="#1a1a1a" stroke="#1a1a1a" textLength="16.44" lengthAdjust="spacingAndGlyphs">800</text>
<line x1="334" y1="290.5" x2="337" y2="290.5" stroke="#111111" stroke-width="1.0"/>
<text x="307.48" y="293.4" font-size="8.2" fill="#1a1a1a" stroke="#1a1a1a" textLength="21.92" lengthAdjust="spacingAndGlyphs">1000</text>
<line x1="352.5" y1="446.25" x2="352.5" y2="449.3" stroke="#111111" stroke-width="1.0"/>
<line x1="376.5" y1="446.25" x2="376.5" y2="449.3" stroke="#111111" stroke-width="1.0"/>
<line x1="399.5" y1="446.25" x2="399.5" y2="449.3" stroke="#111111" stroke-width="1.0"/>
<line x1="423.5" y1="446.25" x2="423.5" y2="449.3" stroke="#111111" stroke-width="1.0"/>
<line x1="447.5" y1="446.25" x2="447.5" y2="449.3" stroke="#111111" stroke-width="1.0"/>
<line x1="470.5" y1="446.25" x2="470.5" y2="449.3" stroke="#111111" stroke-width="1.0"/>
<line x1="494.5" y1="446.25" x2="494.5" y2="449.3" stroke="#111111" stroke-width="1.0"/>
<text transform="translate(286.7,426.6) rotate(-90)" x="0" y="0" font-size="10.6" fill="#1a1a1a" stroke="#1a1a1a" style="stroke-width:0.35px" textLength="120.8" lengthAdjust="spacingAndGlyphs">% Proliferation relative to control</text>
<text transform="translate(299.6,397.8) rotate(-90)" x="0" y="0" font-size="10.6" fill="#1a1a1a" stroke="#1a1a1a" style="stroke-width:0.35px" textLength="63.8" lengthAdjust="spacingAndGlyphs">(CAR-T in R10%)</text>
<text transform="translate(356.6,481.25) rotate(-90)" x="0" y="0" font-size="10.2" fill="#1a1a1a" textLength="27.5" lengthAdjust="spacingAndGlyphs">R10%</text>
<text transform="translate(373.6,501.25) rotate(-90)" x="0" y="0" font-size="10.2" fill="#1a1a1a" textLength="47.5" lengthAdjust="spacingAndGlyphs">Tryptophan</text>
<text transform="translate(386.1,497.5) rotate(-90)" x="0" y="0" font-size="10.2" fill="#1a1a1a" textLength="42.5" lengthAdjust="spacingAndGlyphs">low media</text>
<text transform="translate(397.85,491.25) rotate(-90)" x="0" y="0" font-size="10.2" fill="#1a1a1a" textLength="31.25" lengthAdjust="spacingAndGlyphs">Cystine</text>
<text transform="translate(409.85,497.5) rotate(-90)" x="0" y="0" font-size="10.2" fill="#1a1a1a" textLength="43.75" lengthAdjust="spacingAndGlyphs">low media</text>
<text transform="translate(428.3,479.6) rotate(-90)" x="0" y="0" font-size="10.2" fill="#1a1a1a" textLength="26.6" lengthAdjust="spacingAndGlyphs">R10%</text>
<text transform="translate(444.6,500.4) rotate(-90)" x="0" y="0" font-size="10.2" fill="#1a1a1a" textLength="47.4" lengthAdjust="spacingAndGlyphs">Tryptophan</text>
<text transform="translate(457.1,497) rotate(-90)" x="0" y="0" font-size="10.2" fill="#1a1a1a" textLength="42" lengthAdjust="spacingAndGlyphs">low media</text>
<text transform="translate(474.7,479.6) rotate(-90)" x="0" y="0" font-size="10.2" fill="#1a1a1a" textLength="26.6" lengthAdjust="spacingAndGlyphs">R10%</text>
<text transform="translate(491.3,491.2) rotate(-90)" x="0" y="0" font-size="10.2" fill="#1a1a1a" textLength="32.4" lengthAdjust="spacingAndGlyphs">Cystine</text>
<text transform="translate(504,497) rotate(-90)" x="0" y="0" font-size="10.2" fill="#1a1a1a" textLength="44" lengthAdjust="spacingAndGlyphs">low media</text>
<line x1="333.75" y1="504.5" x2="408" y2="504.5" stroke="#333" stroke-width="1.0"/>
<line x1="411.5" y1="504.5" x2="463.5" y2="504.5" stroke="#333" stroke-width="1.0"/>
<line x1="468" y1="504.5" x2="520" y2="504.5" stroke="#333" stroke-width="1.0"/>
<text x="351.8" y="519" font-size="10" fill="#1a1a1a" stroke="#1a1a1a" textLength="39.2" lengthAdjust="spacingAndGlyphs">Wild type</text>
<text x="419.6" y="518.9" font-size="10" fill="#1a1a1a" stroke="#1a1a1a" textLength="35.7" lengthAdjust="spacingAndGlyphs">SLC7A5</text>
<text x="472.9" y="518.9" font-size="10" fill="#1a1a1a" stroke="#1a1a1a" textLength="40.3" lengthAdjust="spacingAndGlyphs">SLC7A11</text>
<line x1="333.75" y1="525.5" x2="520" y2="525.5" stroke="#333" stroke-width="1.0"/>
<text x="346.6" y="540.4" font-size="10" fill="#1a1a1a" stroke="#1a1a1a" textLength="160.4" lengthAdjust="spacingAndGlyphs">anti-CD33 CAR-T cultured with THP1</text>
<text x="262.5" y="589.7" font-size="14.3" font-weight="bold" fill="#000" textLength="8.3" lengthAdjust="spacingAndGlyphs">F</text>
<rect x="279.5" y="650.75" width="156.25" height="87.5" fill="none" stroke="#333" stroke-width="1.0"/>
<text x="288.75" y="675.6" font-size="9.6" fill="#b01e3c" stroke="#b01e3c" textLength="24.25" lengthAdjust="spacingAndGlyphs">HL60</text>
<text x="319.25" y="728" font-size="9.6" fill="#4caa4c" stroke="#4caa4c" textLength="49" lengthAdjust="spacingAndGlyphs">NOD SCID</text>
<text x="371.25" y="685.3" font-size="9.6" fill="#1a1a1a" stroke="#1a1a1a" textLength="26.75" lengthAdjust="spacingAndGlyphs">CAR-T</text>
<text x="357" y="713.3" font-size="9.6" fill="#1a1a1a" stroke="#1a1a1a" textLength="10.5" lengthAdjust="spacingAndGlyphs">d0</text>
<text x="388.75" y="713.3" font-size="9.6" fill="#1a1a1a" stroke="#1a1a1a" textLength="16.25" lengthAdjust="spacingAndGlyphs">d24</text>
<text x="416.25" y="713.3" font-size="9.6" fill="#b01e3c" stroke="#b01e3c" textLength="17" lengthAdjust="spacingAndGlyphs">d38</text>
<text transform="translate(412.8,684) rotate(46)" x="0" y="3.6" font-size="10" fill="#1a1a1a" stroke="#1a1a1a" text-anchor="middle" textLength="35.5" lengthAdjust="spacingAndGlyphs">Sacrifice</text>
<line x1="361.25" y1="702.5" x2="425" y2="702.5" stroke="#222" stroke-width="0.9"/>
<circle cx="361.25" cy="702.3" r="1.2" fill="#111" />
<circle cx="395.5" cy="702.3" r="1.2" fill="#111" />
<circle cx="425" cy="702.3" r="1.2" fill="#111" />
<g transform="translate(286.2,679.6) rotate(45)"><line x1="0" y1="0" x2="34.5" y2="0" stroke="#333" stroke-width="0.8"/><rect x="1.2" y="-2.0" width="16.5" height="4.0" fill="#f1e6e6" stroke="#4a4a4a" stroke-width="0.8"/><rect x="-2.6" y="-1.1" width="4.2" height="2.2" fill="#111"/><rect x="-3.6" y="-3.4" width="2.0" height="6.8" fill="#111"/></g>
<g transform="translate(385.8,691.8) rotate(55)"><line x1="0" y1="0" x2="12" y2="0" stroke="#444" stroke-width="0.6"/><rect x="0.5" y="-1.3" width="6.5" height="2.6" fill="#ecd6d6" stroke="#333" stroke-width="0.7"/><rect x="-1.4" y="-1.8" width="1" height="3.6" fill="#111"/></g>
<path d="M312.5,704.8 C311,696 318,686.5 327,686.2 C333,686 337,688 340.5,690.2" fill="none" stroke="#333" stroke-width="0.8"/>
<path d="M321.5,706.3 C327,705.6 333,705.2 338.8,704.6" fill="none" stroke="#333" stroke-width="0.8"/>
<path d="M341.2,697 C340.8,701.5 344.5,704.3 348.7,703.9 C351.5,703.6 354.5,703.2 356.3,701.6 C355.2,697.5 351.5,692.6 346.6,692.1" fill="#fff" stroke="#333" stroke-width="0.8"/>
<ellipse cx="342.1" cy="693.6" rx="2.2" ry="3.0" fill="#2a2a2a"/>
<ellipse cx="342.6" cy="693.2" rx="0.9" ry="1.3" fill="#bbb"/>
<ellipse cx="345.6" cy="689.4" rx="2.0" ry="2.4" fill="#fff" stroke="#333" stroke-width="0.9"/>
<circle cx="350.1" cy="699.3" r="0.95" fill="#111"/>
<line x1="350.5" y1="692.3" x2="351.3" y2="689.6" stroke="#1a1a1a" stroke-width="0.6"/>
<line x1="352" y1="693" x2="353.8" y2="690.4" stroke="#1a1a1a" stroke-width="0.6"/>
<line x1="353.4" y1="694.3" x2="356" y2="692.2" stroke="#1a1a1a" stroke-width="0.6"/>
<line x1="354.6" y1="695.8" x2="357.6" y2="694.6" stroke="#1a1a1a" stroke-width="0.6"/>
<line x1="355.4" y1="697.5" x2="358.3" y2="697.5" stroke="#1a1a1a" stroke-width="0.6"/>
<line x1="356" y1="699" x2="358.2" y2="700.4" stroke="#1a1a1a" stroke-width="0.6"/>
<path d="M346.3,703.2 C347.5,706.6 351,707.4 353.4,705.2 L352.6,703.3 Z" fill="#111"/>
<polyline points="333.5,704.2 334.2,706.3 339,710.5 343.2,711.5" fill="none" stroke="#333" stroke-width="0.8"/>
<line x1="341" y1="707.7" x2="350" y2="709.4" stroke="#333" stroke-width="0.8"/>
<ellipse cx="350.3" cy="709.5" rx="1.7" ry="0.9" fill="#111"/>
<ellipse cx="342" cy="711.3" rx="1.8" ry="0.9" fill="#111"/>
<path d="M324,705.8 C325.5,708.5 327.5,710 330,711.2" fill="none" stroke="#333" stroke-width="0.8"/>
<ellipse cx="328.2" cy="711.3" rx="2" ry="0.9" fill="#111"/>
<path d="M314.5,705.3 C305,706 299.5,709 299.5,714.5 C299.5,720 304,722 309,721.6 C315,721 321,718.5 325.5,715.6" fill="none" stroke="#444" stroke-width="1.9"/>
<path d="M314.5,705.3 C305,706 299.5,709 299.5,714.5 C299.5,720 304,722 309,721.6 C315,721 321,718.5 325.5,715.6" fill="none" stroke="#dadada" stroke-width="0.8"/>
</svg>
</body></html>
